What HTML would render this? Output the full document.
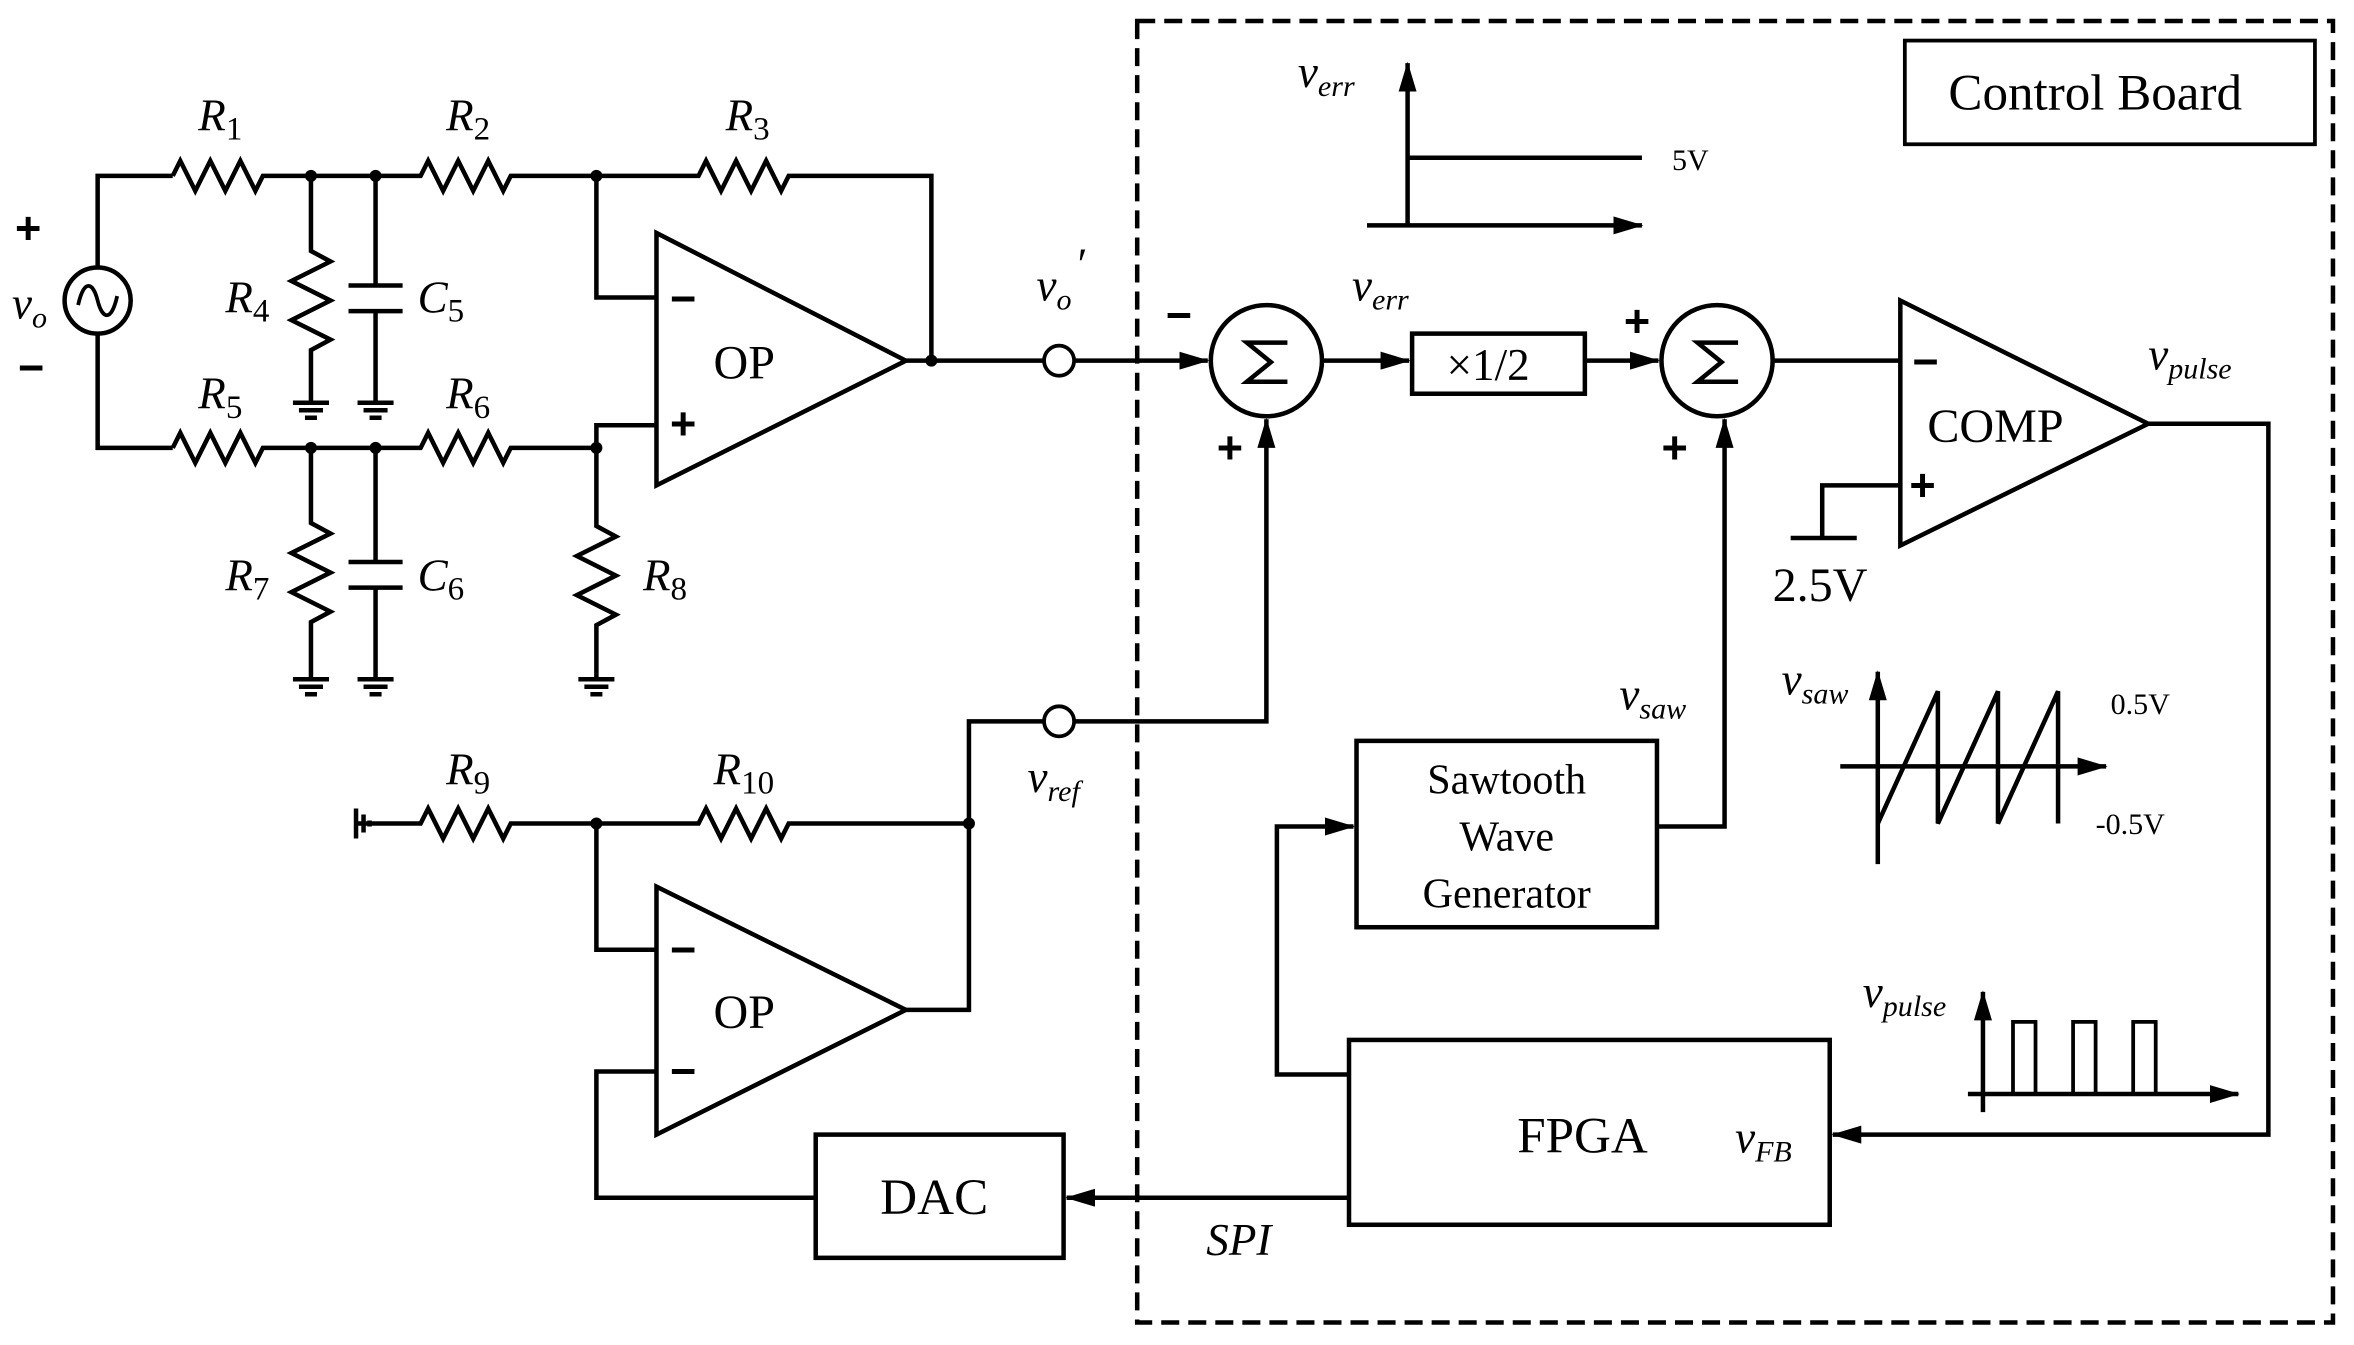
<!DOCTYPE html>
<html><head><meta charset="utf-8"><style>
html,body{margin:0;padding:0;background:#fff;}
svg{display:block;}
text{font-family:"Liberation Serif",serif;fill:#000;}
.i{font-style:italic;}
.s{font-family:"Liberation Sans",sans-serif;font-weight:bold;}
</style></head><body>
<svg width="2354" height="1345" viewBox="0 0 1567 895" preserveAspectRatio="none" xmlns="http://www.w3.org/2000/svg">
<defs>
<marker id="b" viewBox="0 0 20 12" markerWidth="20" markerHeight="12" refX="19" refY="6" orient="auto" markerUnits="userSpaceOnUse"><path d="M0,0 L20,6 L0,12 Z"/></marker>
</defs>
<g stroke="#000" stroke-width="3" fill="none" stroke-linejoin="miter">
<rect x="757" y="14" width="796" height="866" stroke-dasharray="12,6"/>
<rect x="1268" y="27" width="273" height="69" stroke-width="2.5"/>
<circle cx="65" cy="200" r="22"/>
<path d="M52,203 C56,185 62,188 65,200 C68,212 74,215 78,197" stroke-width="2.5"/>
<path d="M65,178 V117 H115 M65,222 V298 H115"/>
<path d="M115,117 L120,107 L130,127 L140,107 L150,127 L160,107 L170,127 L175,117 H280 L285,107 L295,127 L305,107 L315,127 L325,107 L335,127 L340,117 H465 L470,107 L480,127 L490,107 L500,127 L510,107 L520,127 L525,117 H620 V240"/>
<path d="M115,298 L120,288 L130,308 L140,288 L150,308 L160,288 L170,308 L175,298 H280 L285,288 L295,308 L305,288 L315,308 L325,288 L335,308 L340,298 H397"/>
<path d="M207,117 V167 L220,174 L194,187 L220,200 L194,213 L220,226 L207,233 V268"/>
<path d="M250,117 V190 M232,190 H268 M232,207 H268 M250,207 V268"/>
<path d="M207,298 V348 L220,355 L194,368 L220,381 L194,394 L220,407 L207,414 V452"/>
<path d="M250,298 V374 M232,374 H268 M232,391 H268 M250,391 V452"/>
<path d="M397,298 V350 L410,357 L384,370 L410,383 L384,396 L410,409 L397,416 V452"/>
<g stroke-width="3">
<path d="M195,268 H219 M199,273 H215 M203,278 H211"/>
<path d="M238,268 H262 M242,273 H258 M246,278 H254"/>
<path d="M195,452 H219 M199,457 H215 M203,462 H211"/>
<path d="M238,452 H262 M242,457 H258 M246,462 H254"/>
<path d="M385,452 H409 M389,457 H405 M393,462 H401"/>
</g>
<path d="M437,155 L437,323 L603,240 Z"/>
<path d="M397,117 V198 H437 M397,298 V283 H437"/>
<path d="M603,240 H695"/>
<circle cx="705" cy="240" r="10" stroke-width="2.5"/>
<path d="M715,240 H804" marker-end="url(#b)"/>
<circle cx="843" cy="240" r="37"/>
<path d="M880,240 H938" marker-end="url(#b)"/>
<rect x="940" y="222" width="115" height="40"/>
<path d="M1055,240 H1104" marker-end="url(#b)"/>
<circle cx="1143" cy="240" r="37"/>
<path d="M1180,240 H1265"/>
<path d="M1265,200 L1265,363 L1430,282 Z"/>
<path d="M1265,323 H1213 V358 M1192,358 H1236"/>
<path d="M1430,282 H1510 V755 H1220" marker-end="url(#b)"/>
<path d="M645,548 V480 H695"/>
<circle cx="705" cy="480" r="10" stroke-width="2.5"/>
<path d="M715,480 H843 V279" marker-end="url(#b)"/>
<path d="M237,538 V558 M242,542 V554 M246,546 V550"/>
<path d="M237,548 H280 L285,538 L295,558 L305,538 L315,558 L325,538 L335,558 L340,548 H465 L470,538 L480,558 L490,538 L500,558 L510,538 L520,558 L525,548 H645"/>
<path d="M437,590 L437,755 L603,672 Z"/>
<path d="M397,548 V632 H437 M603,672 H645 V548 M543,797 H397 V713 H437"/>
<rect x="543" y="755" width="165" height="82"/>
<rect x="898" y="692" width="320" height="123"/>
<rect x="903" y="493" width="200" height="124"/>
<path d="M898,797 H710" marker-end="url(#b)"/>
<path d="M898,715 H850 V550 H901" marker-end="url(#b)"/>
<path d="M1103,550 H1148 V279" marker-end="url(#b)"/>
<path d="M937,150 V42" marker-end="url(#b)"/>
<path d="M910,150 H1093" marker-end="url(#b)"/>
<path d="M937,105 H1093"/>
<path d="M1250,575 V447" marker-end="url(#b)"/>
<path d="M1225,510 H1402" marker-end="url(#b)"/>
<path d="M1250,548 L1290,460 V548 L1330,460 V548 L1370,460 V548"/>
<path d="M1320,740 V660" marker-end="url(#b)"/>
<path d="M1310,728 H1490" marker-end="url(#b)"/>
<path d="M1340,728 V680 H1355 V728 M1380,728 V680 H1395 V728 M1420,728 V680 H1435 V728" stroke-width="2.5"/>
<!-- sigma shapes -->
<path d="M857,228 H830 L846,241 L830,254 H857" stroke-width="3"/>
<path d="M1157,228 H1130 L1146,241 L1130,254 H1157" stroke-width="3"/>
</g>
<g fill="#000">
<circle cx="207" cy="117" r="4"/><circle cx="250" cy="117" r="4"/><circle cx="397" cy="117" r="4"/>
<circle cx="207" cy="298" r="4"/><circle cx="250" cy="298" r="4"/><circle cx="397" cy="298" r="4"/>
<circle cx="620" cy="240" r="4"/><circle cx="397" cy="548" r="4"/><circle cx="645" cy="548" r="4"/>
</g>
<g font-size="30">
<text x="10" y="162" font-size="30" class="s">+</text>
<text x="12" y="255" font-size="30" class="s">−</text>
<text x="8" y="212" class="i">v<tspan font-size="20" dy="6">o</tspan></text>
<text x="132" y="87" class="i">R<tspan font-size="22" dy="6" font-style="normal">1</tspan></text>
<text x="297" y="87" class="i">R<tspan font-size="22" dy="6" font-style="normal">2</tspan></text>
<text x="483" y="87" class="i">R<tspan font-size="22" dy="6" font-style="normal">3</tspan></text>
<text x="150" y="208" class="i">R<tspan font-size="22" dy="6" font-style="normal">4</tspan></text>
<text x="278" y="208" class="i">C<tspan font-size="22" dy="6" font-style="normal">5</tspan></text>
<text x="132" y="272" class="i">R<tspan font-size="22" dy="6" font-style="normal">5</tspan></text>
<text x="297" y="272" class="i">R<tspan font-size="22" dy="6" font-style="normal">6</tspan></text>
<text x="150" y="393" class="i">R<tspan font-size="22" dy="6" font-style="normal">7</tspan></text>
<text x="278" y="393" class="i">C<tspan font-size="22" dy="6" font-style="normal">6</tspan></text>
<text x="428" y="393" class="i">R<tspan font-size="22" dy="6" font-style="normal">8</tspan></text>
<text x="297" y="522" class="i">R<tspan font-size="22" dy="6" font-style="normal">9</tspan></text>
<text x="475" y="522" class="i">R<tspan font-size="22" dy="6" font-style="normal">10</tspan></text>
<text x="446" y="209" class="s">−</text>
<text x="446" y="292" class="s">+</text>
<text x="475" y="252" font-size="32">OP</text>
<text x="446" y="642" class="s">−</text>
<text x="446" y="723" class="s">−</text>
<text x="475" y="684" font-size="32">OP</text>
<text x="690" y="200" class="i">v<tspan font-size="20" dy="6">o</tspan><tspan dy="-20" dx="4" font-style="normal" font-size="30">′</tspan></text>
<text x="776" y="220" class="s">−</text>
<text x="810" y="308" class="s">+</text>
<text x="1081" y="224" class="s">+</text>
<text x="1106" y="308" class="s">+</text>
<text x="900" y="200" class="i">v<tspan font-size="20" dy="6">err</tspan></text>
<text x="864" y="58" class="i">v<tspan font-size="20" dy="6">err</tspan></text>
<text x="1113" y="113" font-size="20">5V</text>
<text x="963" y="253" font-size="30">×1/2</text>
<text x="1273" y="251" class="s">−</text>
<text x="1271" y="333" class="s">+</text>
<text x="1283" y="294" font-size="32">COMP</text>
<text x="1180" y="400" font-size="32">2.5V</text>
<text x="1430" y="246" class="i">v<tspan font-size="20" dy="6">pulse</tspan></text>
<text x="1297" y="73" font-size="34">Control Board</text>
<text x="1078" y="472" class="i">v<tspan font-size="20" dy="6">saw</tspan></text>
<text x="1186" y="462" class="i">v<tspan font-size="20" dy="6">saw</tspan></text>
<text x="1405" y="475" font-size="20">0.5V</text>
<text x="1395" y="555" font-size="20">-0.5V</text>
<text x="1003" y="528" font-size="28" text-anchor="middle">Sawtooth</text>
<text x="1003" y="566" font-size="28" text-anchor="middle">Wave</text>
<text x="1003" y="604" font-size="28" text-anchor="middle">Generator</text>
<text x="1240" y="670" class="i">v<tspan font-size="20" dy="6">pulse</tspan></text>
<text x="1010" y="767" font-size="34">FPGA</text>
<text x="1155" y="767" class="i">v<tspan font-size="20" dy="6">FB</tspan></text>
<text x="586" y="808" font-size="34">DAC</text>
<text x="803" y="835" class="i">SPI</text>
<text x="684" y="527" class="i">v<tspan font-size="20" dy="6">ref</tspan></text>
</g>
</svg>
</body></html>
